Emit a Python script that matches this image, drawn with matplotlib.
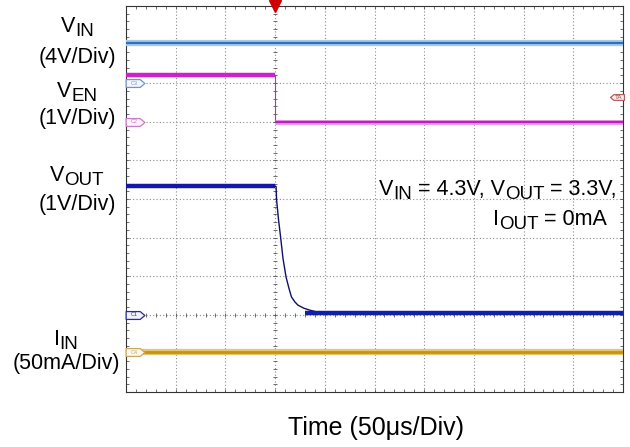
import numpy as np
import matplotlib
matplotlib.use('Agg')
import matplotlib.pyplot as plt
from matplotlib.path import Path

plt.rcParams['font.family'] = ['Liberation Sans', 'DejaVu Sans']

# traces in divisions (x: 0-10, y: 0-10)
vin_x = [0, 10]
vin_y = [9.03, 9.03]

ven_x = [0, 3.0, 3.0, 10]
ven_y = [8.2, 8.2, 7.0, 7.0]

vout_hi_x = [0, 3.0]
vout_hi_y = [5.33, 5.33]
vout_fall_x = [3.0, 3.02, 3.03, 3.07, 3.11, 3.16, 3.22, 3.28, 3.33, 3.40, 3.46, 3.58, 3.70, 3.82, 3.94]
vout_fall_y = [5.33, 5.32, 4.97, 4.45, 4.02, 3.45, 2.98, 2.68, 2.46, 2.33, 2.25, 2.17, 2.12, 2.08, 2.05]
vout_lo_x = [3.6, 10]
vout_lo_y = [2.05, 2.05]

iin_x = [0, 10]
iin_y = [1.04, 1.04]

# channel flags
flags_y = [8.0, 7.0, 2.0, 1.03]
flags_txt = ['C3', 'C2', 'C1', 'C4']
flags_edge = ['#6f95cc', '#c77cc7', '#2a2a9a', '#c8a860']
flags_fill = ['#f4f7fc', '#fbf2fb', '#f2f2fa', '#fcf8ee']

W, H = 630, 447
fig = plt.figure(figsize=(W / 100, H / 100), dpi=100)
ax = fig.add_axes([126 / W, 1 - 392 / H, (623 - 126) / W, (392 - 6) / H])
ax.set_xlim(0, 10)
ax.set_ylim(0, 10)

# grid
for g in range(1, 10):
    ax.axvline(g, color='#8c8c8c', lw=0.8, ls=(0, (1, 2)), zorder=1)
    ax.axhline(g, color='#8c8c8c', lw=0.8, ls=(0, (1, 2)), zorder=1)

ax.set_xticks(np.arange(0, 10.01, 0.2))
ax.set_yticks(np.arange(0, 10.01, 0.2))
ax.tick_params(direction='in', length=2.5, width=0.6, color='#555555',
               top=True, right=True, labelbottom=False, labelleft=False)
for s in ax.spines.values():
    s.set_linewidth(0.8)
    s.set_color('#333333')

tk = np.arange(0.2, 10, 0.2)
ax.plot(np.full_like(tk, 3.0), tk, ls='none', marker='_', ms=3, mew=0.6, color='#555555', zorder=1)
ax.plot(tk, np.full_like(tk, 2.0), ls='none', marker='|', ms=3, mew=0.6, color='#555555', zorder=1)

# traces
ax.plot(vin_x, vin_y, color='#a9c8ea', lw=4.5, zorder=3, solid_capstyle='butt')
ax.plot(vin_x, vin_y, color='#2f70bb', lw=1.6, zorder=3, solid_capstyle='butt')

ax.plot(ven_x[:2], ven_y[:2], color='#cc22cc', lw=3.2, zorder=3, solid_capstyle='butt')
ax.plot(ven_x[1:3], ven_y[1:3], color='#cc22cc', lw=0.8, zorder=3)
ax.plot(ven_x[2:], ven_y[2:], color='#e39ae3', lw=3.5, zorder=3, solid_capstyle='butt')
ax.plot(ven_x[2:], ven_y[2:], color='#bf1fbf', lw=1.6, zorder=3, solid_capstyle='butt')

ax.plot(vout_hi_x, vout_hi_y, color='#1616a8', lw=3.2, zorder=3, solid_capstyle='butt')
ax.plot(vout_fall_x, vout_fall_y, color='#10106a', lw=1.0, zorder=3)
ax.plot(vout_lo_x, vout_lo_y, color='#1020a8', lw=3.2, zorder=3, solid_capstyle='butt')

ax.plot(iin_x, iin_y, color='#e5c66a', lw=4.5, zorder=3, solid_capstyle='butt')
ax.plot(iin_x, iin_y, color='#c49410', lw=2.0, zorder=3, solid_capstyle='butt')

# channel flags on the left edge
flag = Path([(-1, -0.42), (0.5, -0.42), (1, 0), (0.5, 0.42), (-1, 0.42), (-1, -0.42)],
            [Path.MOVETO] + [Path.LINETO] * 4 + [Path.CLOSEPOLY])
for fy, ft, fe, ff in zip(flags_y, flags_txt, flags_edge, flags_fill):
    ax.plot([0.19], [fy], marker=flag, ms=13.5, mfc=ff, mec=fe, mew=0.9, zorder=4, clip_on=False)
    ax.text(0.17, fy, ft, fontsize=4, color=fe, ha='center', va='center', zorder=5)

flag_l = Path([(1, -0.42), (-0.5, -0.42), (-1, 0), (-0.5, 0.42), (1, 0.42), (1, -0.42)],
              [Path.MOVETO] + [Path.LINETO] * 4 + [Path.CLOSEPOLY])
ax.plot([9.87], [7.64], marker=flag_l, ms=10, mfc='#fbeeee', mec='#b06060', mew=0.9, zorder=4, clip_on=False)
ax.text(9.91, 7.64, 'TA', fontsize=4.5, color='#a04040', ha='center', va='center', zorder=5)

ax.plot([3.0], [10.0], marker='v', ms=8, color='#cc0000', mec='#cc0000', zorder=6, clip_on=False)

# text
fs = 15.5
sub_fs = 13.5
sub_drop = 4
renderer = fig.canvas.get_renderer()

def rich(px, base, parts, ha='center', size=None):
    # parts: list of (string, is_subscript); base: baseline in pixels from top
    objs = []
    for s, sub in parts:
        t = fig.text(0, 0, s, fontsize=sub_fs if sub else (size or fs), va='baseline', ha='left')
        objs.append((t, sub, t.get_window_extent(renderer).width))
    total = sum(w for _, _, w in objs)
    x = px - total if ha == 'right' else px - total / 2
    for t, sub, w in objs:
        y = base + (sub_drop if sub else 0)
        t.set_position((x / W, 1 - y / H))
        x += w

rich(77, 32, [('V', False), ('IN', True)])
rich(77, 63, [('(4V/Div)', False)])
rich(77, 97, [('V', False), ('EN', True)])
rich(77, 124, [('(1V/Div)', False)])
rich(77, 181, [('V', False), ('OUT', True)])
rich(77, 210, [('(1V/Div)', False)])
rich(66, 345, [('I', False), ('IN', True)])
rich(66, 369, [('(50mA/Div)', False)])

rich(617, 195, [('V', False), ('IN', True), (' = 4.3V, V', False), ('OUT', True), (' = 3.3V,', False)], ha='right')
rich(607, 225, [('I', False), ('OUT', True), (' = 0mA', False)], ha='right')

rich(376, 435, [('Time (50μs/Div)', False)], size=18)

fig.savefig('out.png', dpi=100)
